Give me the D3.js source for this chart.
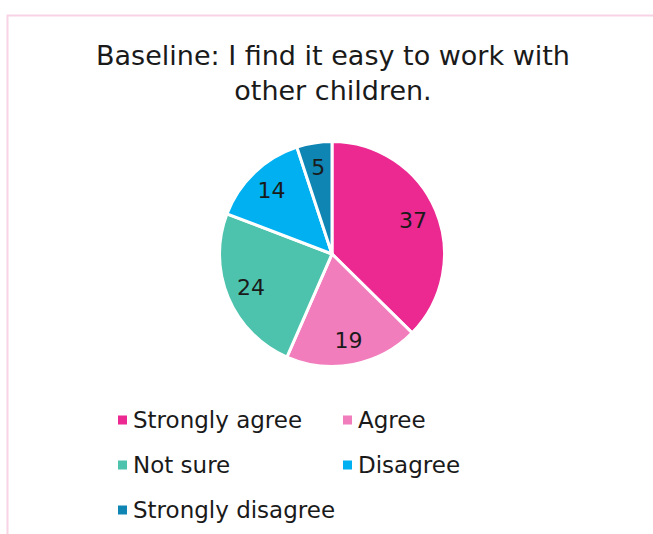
<!DOCTYPE html>
<html>
<head>
<meta charset="utf-8">
<script src="https://cdn.jsdelivr.net/npm/d3@7"></script>
<style>
  html, body { margin: 0; padding: 0; background: #fff; }
  svg { display: block; }
  text { font-family: 'Century Gothic', 'URW Gothic', 'DejaVu Sans', sans-serif; fill: #1a1a1a; }
</style>
</head>
<body>
<div id="chart"></div>
<script>
// Survey responses: "I find it easy to work with other children" (baseline)
const categories = ["Strongly agree", "Agree", "Not sure", "Disagree", "Strongly disagree"];
const values = [37, 19, 24, 14, 5];
const colors = ["#EC2891", "#F27DBD", "#4DC3AD", "#00B0F0", "#0F85B4"];
const titleLines = ["Baseline: I find it easy to work with", "other children."];

const W = 653, H = 534;
const svg = d3.select("#chart").append("svg").attr("width", W).attr("height", H);

// Chart frame (top and left edges visible)
svg.append("path")
  .attr("d", `M7.5,${H} V15.5 H${W}`)
  .attr("fill", "none")
  .attr("stroke", "#F8D3E6")
  .attr("stroke-width", 2);

// Title
svg.append("g").selectAll("text")
  .data(titleLines)
  .join("text")
  .attr("x", 333)
  .attr("y", (d, i) => 65 + i * 35)
  .attr("text-anchor", "middle")
  .attr("font-size", 27)
  .text(d => d);

// Pie
const cx = 332, cy = 254, radius = 112.5;
const data = categories.map((c, i) => ({ category: c, value: values[i], color: colors[i] }));
const pie = d3.pie().value(d => d.value).sort(null);
const arc = d3.arc().innerRadius(0).outerRadius(radius);
const labelArc = d3.arc().innerRadius(radius * 0.78).outerRadius(radius * 0.78);

const g = svg.append("g").attr("transform", `translate(${cx},${cy})`);
const arcs = pie(data);

g.selectAll("path")
  .data(arcs)
  .join("path")
  .attr("d", arc)
  .attr("fill", d => d.data.color)
  .attr("stroke", "#fff")
  .attr("stroke-width", 3)
  .attr("stroke-linejoin", "miter");

g.selectAll("text")
  .data(arcs)
  .join("text")
  .attr("transform", d => `translate(${labelArc.centroid(d)})`)
  .attr("text-anchor", "middle")
  .attr("dominant-baseline", "central")
  .attr("font-size", 22)
  .text(d => d.data.value);

// Legend: two columns, three rows
const legend = svg.append("g");
const colX = [118, 343];
const rowY = [420, 465, 510];
const items = legend.selectAll("g")
  .data(data)
  .join("g")
  .attr("transform", (d, i) => `translate(${colX[i % 2]},${rowY[Math.floor(i / 2)]})`);

items.append("rect")
  .attr("x", 0).attr("y", -4.5)
  .attr("width", 9).attr("height", 9)
  .attr("fill", d => d.color);

items.append("text")
  .attr("x", 15)
  .attr("y", 0)
  .attr("dominant-baseline", "central")
  .attr("font-size", 23)
  .text(d => d.category);
</script>
</body>
</html>
